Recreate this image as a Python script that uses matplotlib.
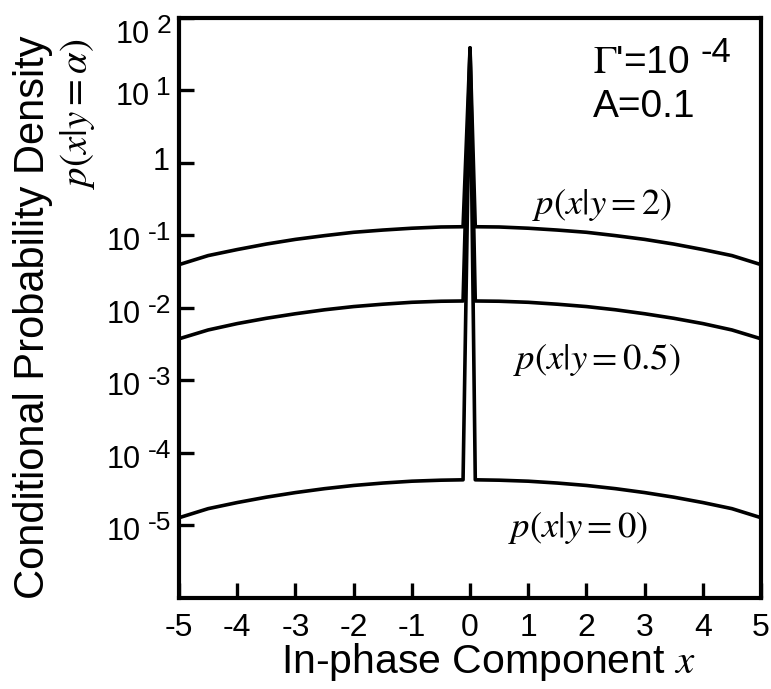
import matplotlib
matplotlib.use("Agg")
import matplotlib.pyplot as plt
from matplotlib.ticker import NullLocator

plt.rcParams['font.family'] = ['Liberation Sans', 'DejaVu Sans']
plt.rcParams['mathtext.fontset'] = 'stix'

# ---- data ----
x_left = [-5.0, -4.5, -4.0, -3.5, -3.0, -2.5, -2.0, -1.5, -1.0, -0.5, -0.12]
x_peak = [0.0]
x_right = [0.09, 0.5, 1.0, 1.5, 2.0, 2.5, 3.0, 3.5, 4.0, 4.5, 5.0]

peak_value = [38.0]

p_y2_left = [0.039, 0.052, 0.063, 0.075, 0.087, 0.098, 0.109, 0.117, 0.124, 0.129, 0.130]
p_y2_right = [0.130, 0.129, 0.124, 0.117, 0.109, 0.098, 0.087, 0.075, 0.063, 0.052, 0.039]

p_y05_left = [0.0037, 0.0049, 0.0060, 0.0071, 0.0082, 0.0093, 0.0103, 0.0111, 0.0118, 0.0122, 0.0123]
p_y05_right = [0.0123, 0.0122, 0.0118, 0.0111, 0.0103, 0.0093, 0.0082, 0.0071, 0.0060, 0.0049, 0.0037]

p_y0_left = [1.26e-5, 1.68e-5, 2.04e-5, 2.42e-5, 2.80e-5, 3.17e-5, 3.51e-5, 3.79e-5, 4.02e-5, 4.15e-5, 4.2e-5]
p_y0_right = [4.2e-5, 4.15e-5, 4.02e-5, 3.79e-5, 3.51e-5, 3.17e-5, 2.80e-5, 2.42e-5, 2.04e-5, 1.68e-5, 1.26e-5]

curve_labels = [r"$p(x|y=2)$", r"$p(x|y=0.5)$", r"$p(x|y=0)$"]

xtick_values = [-5, -4, -3, -2, -1, 0, 1, 2, 3, 4, 5]
xtick_labels = ["-5", "-4", "-3", "-2", "-1", "0", "1", "2", "3", "4", "5"]

ytick_values = [1e-5, 1e-4, 1e-3, 1e-2, 1e-1, 1e0, 1e1, 1e2]
ytick_exponents = ["-5", "-4", "-3", "-2", "-1", None, "1", "2"]

# ---- figure ----
fig = plt.figure(figsize=(7.71, 6.89), dpi=100)
ax = fig.add_axes([0.2322, 0.1328, 0.7549, 0.8418])
ax.set_yscale('log')
ax.set_xlim(-5, 5)
ax.set_ylim(1e-6, 1e2)

series = [
    (p_y2_left, p_y2_right),
    (p_y05_left, p_y05_right),
    (p_y0_left, p_y0_right),
]
for left, right in series:
    xs = x_left + x_peak + x_right
    ys = left + peak_value + right
    ax.plot(xs, ys, color='black', lw=2.6, solid_joinstyle='round', solid_capstyle='butt')

for s in ax.spines.values():
    s.set_linewidth(3)
    s.set_color('black')

ax.set_xticks(xtick_values)
ax.set_xticklabels(xtick_labels)
ax.set_yticks(ytick_values)
ax.yaxis.set_minor_locator(NullLocator())
ax.xaxis.set_minor_locator(NullLocator())
ax.tick_params(axis='both', direction='in', length=10.8, width=2.4, color='black')
ax.tick_params(axis='x', labelsize=23, pad=11.5)
ax.tick_params(axis='y', labelleft=False)

# custom y tick labels "10" + exponent
renderer = fig.canvas.get_renderer()
for val, exp in zip(ytick_values, ytick_exponents):
    top = (val == ytick_values[-1])
    shift = -10 if top else 0
    if exp is None:
        ax.annotate("1", xy=(0, val), xycoords=('axes fraction', 'data'),
                    xytext=(-9, -7), textcoords='offset pixels',
                    ha='right', va='baseline', fontsize=22, annotation_clip=False)
        continue
    t = ax.annotate(exp, xy=(0, val), xycoords=('axes fraction', 'data'),
                    xytext=(-8, -5 + shift), textcoords='offset pixels',
                    ha='right', va='baseline', fontsize=19, annotation_clip=False)
    w = t.get_window_extent(renderer).width
    ax.annotate("10", xy=(0, val), xycoords=('axes fraction', 'data'),
                xytext=(-8 - w - 7, -15 + shift), textcoords='offset pixels',
                ha='right', va='baseline', fontsize=22, annotation_clip=False)

# curve labels
ax.text(0.6065, 0.677, curve_labels[0], transform=ax.transAxes, ha='left', va='center', fontsize=26.5)
ax.text(0.574, 0.4095, curve_labels[1], transform=ax.transAxes, ha='left', va='center', fontsize=26.5)
ax.text(0.565, 0.12, curve_labels[2], transform=ax.transAxes, ha='left', va='center', fontsize=26.5)

# parameters
ax.text(0.711, 0.904, r"$\Gamma$'=10", transform=ax.transAxes, ha='left', va='baseline', fontsize=28)
ax.text(0.896, 0.923, "-4", transform=ax.transAxes, ha='left', va='baseline', fontsize=25)
ax.text(0.711, 0.828, "A=0.1", transform=ax.transAxes, ha='left', va='baseline', fontsize=28)

# axis labels
fig.text(0.634, 0.0232, "In-phase Component $x$", ha='center', va='baseline', fontsize=29.5)
fig.text(0.0428, 0.54, "Conditional Probability Density", rotation=90,
         ha='center', va='center', fontsize=30)
fig.text(0.1, 0.834, r"$p(x|y=\alpha)$", rotation=90, ha='center', va='center', fontsize=28)

fig.savefig("out.png", dpi=100)
